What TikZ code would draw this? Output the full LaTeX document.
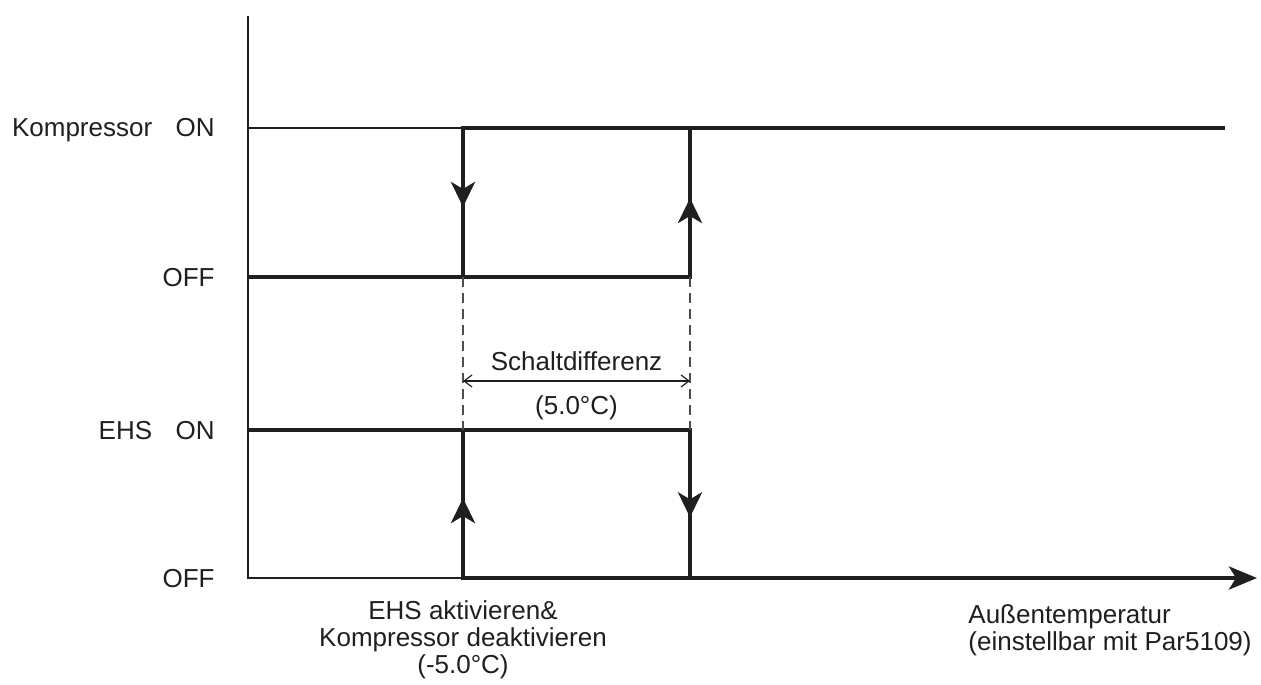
\documentclass[tikz,border=0pt]{standalone}
\usepackage{fontspec}
\setmainfont{Liberation Sans}
\usetikzlibrary{arrows.meta,positioning,decorations.markings}

\begin{document}
\begin{tikzpicture}[
  x=0.5pt,
  y=-0.5pt,
  font=\fontsize{13}{13.5}\selectfont,
  axis/.style={draw=black!88, line width=0.75pt},
  sig/.style={draw=black!88, line width=2pt, line join=miter},
  rise/.style={sig, line cap=rect},
  guide/.style={draw=black!70, line width=0.6pt, dash pattern=on 5pt off 3pt},
  span/.style={draw=black!88, line width=0.6pt,
    {Straight Barb[length=4pt,width=6pt]}-{Straight Barb[length=4pt,width=6pt]}},
  midtip/.style={postaction={decorate}, decoration={markings,
    mark=at position #1 with {\arrow{Stealth[length=12.5pt,width=12pt,inset=3.5pt]}}}},
  lvl/.style={anchor=base east, inner sep=0pt},
  note/.style={inner sep=0pt, text=black!88}
]
  \useasboundingbox (0,0) rectangle (1261,684);

  % corner points
  \coordinate (top) at (248,16);
  \coordinate (k0) at (248,128);
  \coordinate (kA) at (463,128);
  \coordinate (kB) at (690,128);
  \coordinate (kE) at (1225,128);
  \coordinate (f0) at (248,277);
  \coordinate (fA) at (463,277);
  \coordinate (fB) at (690,277);
  \coordinate (e0) at (248,430);
  \coordinate (eA) at (463,430);
  \coordinate (eB) at (690,430);
  \coordinate (o) at (248,578);
  \coordinate (oA) at (463,578);
  \coordinate (oB) at (690,578);
  \coordinate (oE) at (1257,578);
  \coordinate (dL) at (463,381);
  \coordinate (dR) at (690,381);

  % axes
  \draw[axis] (top) -- (o) -- (oA);
  \draw[axis] (k0) -- (kA);

  % compressor
  \draw[sig] (kE) -- (kA);
  \draw[rise, midtip=0.53] (kA) -- (fA);
  \draw[sig] (f0) -- (fB);
  \draw[rise, midtip=0.53] (fB) -- (kB);

  % EHS
  \draw[sig] (e0) -- (eB);
  \draw[rise, midtip=0.54] (oA) -- (eA);
  \draw[rise, midtip=0.59] (eB) -- (oB);
  \draw[sig, -{Stealth[length=14pt,width=11.5pt,inset=3.5pt]}] (oA) -- (oE);

  % hysteresis
  \draw[guide] (fA) -- (eA);
  \draw[guide] (fB) -- (eB);
  \draw[span] (dL) -- node[note, above=5pt] (gap) {Schaltdifferenz}
    node[note, below=7pt] (gapval) {(5.0°C)} (dR);

  \foreach \y/\txt [count=\i] in {128/Kompressor\hspace{0.9em}ON, 277/OFF,
      430/EHS\hspace{0.9em}ON, 578/OFF} {
    \node[lvl, text=black!88] (lvl\i) at (215,\y+9) {\txt};
  }

  \node[note, anchor=north, align=center] (switch) at (463,600)
    {EHS aktivieren\&\\Kompressor deaktivieren\\(-5.0°C)};
  \node[note, anchor=north west, align=left] (temp) at (968,604)
    {Außentemperatur\\(einstellbar mit Par5109)};
\end{tikzpicture}
\end{document}
